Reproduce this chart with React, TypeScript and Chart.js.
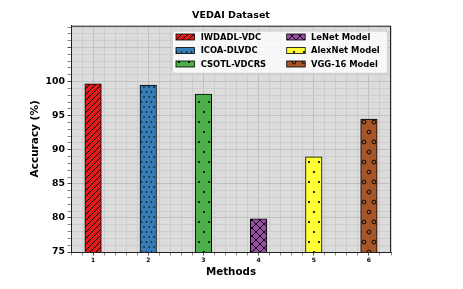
import React, { useEffect, useRef } from "react";
import { Chart, registerables } from "chart.js";

Chart.register(...registerables);

// ---- data ----
const methodPositions = [1, 2, 3, 4, 5, 6];
const xTickLabels = ["1", "2", "3", "4", "5", "6"];
const methodNames = [
  "IWDADL-VDC",
  "ICOA-DLVDC",
  "CSOTL-VDCRS",
  "LeNet Model",
  "AlexNet Model",
  "VGG-16 Model",
];
const accuracyValues = [99.66, 99.48, 98.15, 79.85, 88.97, 94.5];
const yTickLabels = [75, 80, 85, 90, 95, 100];
const chartTitle = "VEDAI Dataset";
const barColors = ["#e41a1c", "#377eb8", "#4daf4a", "#984ea3", "#ffff33", "#a65628"];
const hatchKinds = ["///", "..", ".", "xx", ".", "o"];

const FONT = "'DejaVu Sans', sans-serif";

function makePattern(bg: string, kind: string): CanvasPattern | string {
  const c = document.createElement("canvas");
  let w = 10;
  let h = 20;
  if (kind === "///") { w = 6; h = 6; }
  else if (kind === "xx") { w = 8; h = 8; }
  else if (kind === "..") { w = 5; h = 10; }
  c.width = w;
  c.height = h;
  const g = c.getContext("2d");
  if (!g) return bg;
  g.fillStyle = bg;
  g.fillRect(0, 0, w, h);
  g.strokeStyle = "#000";
  g.fillStyle = "#000";
  g.lineWidth = 1;
  if (kind === "///") {
    g.beginPath();
    for (let k = -1; k <= 1; k++) {
      g.moveTo(k * w - 1, h + 1);
      g.lineTo(k * w + w + 1, -1);
    }
    g.stroke();
  } else if (kind === "xx") {
    g.lineWidth = 0.9;
    g.beginPath();
    for (let k = -1; k <= 1; k++) {
      g.moveTo(k * w - 1, h + 1);
      g.lineTo(k * w + w + 1, -1);
      g.moveTo(k * w - 1, -1);
      g.lineTo(k * w + w + 1, h + 1);
    }
    g.stroke();
  } else if (kind === "..") {
    const pts = [[1.5, 2], [4, 7]];
    for (const [px, py] of pts) {
      g.beginPath();
      g.arc(px, py, 0.8, 0, Math.PI * 2);
      g.fill();
    }
  } else if (kind === ".") {
    const pts = [[9, 2], [4, 12]];
    for (const [px, py] of pts) {
      g.beginPath();
      g.arc(px, py, 1.1, 0, Math.PI * 2);
      g.fill();
    }
  } else if (kind === "o") {
    g.lineWidth = 0.9;
    const pts = [[4, 2], [9, 12]];
    for (const [px, py] of pts) {
      for (const dx of [-w, 0, w]) {
        for (const dy of [-h, 0, h]) {
          g.beginPath();
          g.arc(px + dx, py + dy, 1.9, 0, Math.PI * 2);
          g.stroke();
        }
      }
    }
  }
  const p = g.createPattern(c, "repeat");
  return p || bg;
}

export default function App() {
  const ref = useRef<HTMLCanvasElement | null>(null);

  useEffect(() => {
    if (!ref.current) return;
    const patterns = barColors.map((col, i) => makePattern(col, hatchKinds[i]));

    const datasets = methodNames.map((name, i) => ({
      label: name,
      data: [{ x: methodPositions[i], y: accuracyValues[i] }],
      backgroundColor: patterns[i],
      borderColor: "#000",
      borderWidth: 1,
      borderSkipped: false,
      barThickness: 16.5,
      grouped: false,
    }));

    const decor = {
      id: "decor",
      beforeDraw(chart: any) {
        const { ctx, chartArea: a } = chart;
        ctx.save();
        ctx.fillStyle = "#ffffff";
        ctx.fillRect(0, 0, chart.width, chart.height);
        ctx.fillStyle = "#dcdcdc";
        ctx.fillRect(a.left, a.top, a.right - a.left, a.bottom - a.top);
        ctx.restore();
      },
      afterDatasetsDraw(chart: any) {
        const { ctx, chartArea: a } = chart;
        ctx.save();
        ctx.strokeStyle = "#222";
        ctx.lineWidth = 1;
        ctx.strokeRect(a.left + 0.5, a.top + 0.5, a.right - a.left - 1, a.bottom - a.top);
        ctx.restore();
      },
      afterDraw(chart: any) {
        const { ctx, chartArea: a } = chart;
        ctx.save();
        // title, centred over the plot area
        ctx.font = `bold 9.5px ${FONT}`;
        ctx.fillStyle = "#000";
        ctx.textAlign = "center";
        ctx.textBaseline = "middle";
        ctx.fillText(chartTitle, (a.left + a.right) / 2, a.top - 9.7);

        const boxR = a.right - 3.3;
        const boxL = boxR - 215.4;
        const boxT = a.top + 5.3;
        const boxB = boxT + 42.3;
        ctx.beginPath();
        const r = 2.5;
        ctx.moveTo(boxL + r, boxT);
        ctx.arcTo(boxR, boxT, boxR, boxB, r);
        ctx.arcTo(boxR, boxB, boxL, boxB, r);
        ctx.arcTo(boxL, boxB, boxL, boxT, r);
        ctx.arcTo(boxL, boxT, boxR, boxT, r);
        ctx.closePath();
        ctx.fillStyle = "rgba(255,255,255,0.8)";
        ctx.fill();
        ctx.strokeStyle = "#cccccc";
        ctx.lineWidth = 1;
        ctx.stroke();

        ctx.font = `bold 8.4px ${FONT}`;
        ctx.textBaseline = "middle";
        ctx.textAlign = "left";
        const colHandle = [boxL + 3.7, boxL + 114.4];
        const colText = [boxL + 28.4, boxL + 138.7];
        const rowY = [boxT + 6, boxT + 19.6, boxT + 33];
        methodNames.forEach((name, i) => {
          const col = Math.floor(i / 3);
          const row = i % 3;
          const hx = colHandle[col];
          const hy = rowY[row] - 3;
          ctx.fillStyle = patterns[i];
          ctx.fillRect(hx, hy, 18.5, 6);
          ctx.strokeStyle = "#000";
          ctx.lineWidth = 0.8;
          ctx.strokeRect(hx, hy, 18.5, 6);
          ctx.fillStyle = "#000";
          ctx.fillText(name, colText[col], rowY[row] + 0.5);
        });
        ctx.restore();
      },
    };

    const chart = new Chart(ref.current, {
      type: "bar",
      data: { datasets: datasets as any },
      plugins: [decor],
      options: {
        animation: false,
        responsive: false,
        events: [],
        layout: { padding: { left: 0, right: 72, top: 25.7, bottom: 0 } },
        plugins: {
          legend: { display: false },
          tooltip: { enabled: false },
          title: { display: false },
        },
        scales: {
          x: {
            type: "linear",
            offset: false,
            min: 0.6,
            max: 6.4,
            afterBuildTicks: (s: any) => {
              const t = [];
              for (let k = 3; k <= 32; k++) t.push({ value: k / 5 });
              s.ticks = t;
            },
            afterFit: (s: any) => { s.height = 37; },
            ticks: {
              autoSkip: false,
              maxRotation: 0,
              padding: 1,
              color: "#000",
              font: { family: FONT, size: 6, weight: "bold" },
              callback: (v: any) => {
                const i = methodPositions.indexOf(Number(v));
                return i >= 0 ? xTickLabels[i] : "";
              },
            },
            grid: {
              offset: false,
              color: (c: any) => (c.tick && methodPositions.includes(c.tick.value) ? "#b4b4b4" : "#c6c6c6"),
              lineWidth: 0.7,
              tickColor: (c: any) => (c.tick && methodPositions.includes(c.tick.value) ? "#000" : "#555"),
              tickLength: 3.5,
            },
            border: { display: true, color: "#222", width: 1 },
            title: {
              display: true,
              text: "Methods",
              color: "#000",
              font: { family: FONT, size: 10.3, weight: "bold" },
              padding: { top: 0, bottom: 10.3 },
            },
          },
          y: {
            type: "linear",
            min: 75,
            max: 108.2,
            afterBuildTicks: (s: any) => {
              const t = [];
              for (let k = 75; k <= 108; k++) t.push({ value: k });
              s.ticks = t;
            },
            afterFit: (s: any) => { s.width = 71; },
            ticks: {
              autoSkip: false,
              padding: 2.5,
              color: "#000",
              font: { family: FONT, size: 9.3, weight: "bold" },
              callback: (v: any) => (yTickLabels.includes(Number(v)) ? String(v) : ""),
            },
            grid: {
              color: (c: any) => (c.tick && c.tick.value % 5 === 0 ? "#b4b4b4" : "#c6c6c6"),
              lineWidth: 0.7,
              tickColor: (c: any) => (c.tick && c.tick.value % 5 === 0 ? "#000" : "#555"),
              tickLength: 3.5,
            },
            border: { display: true, color: "#222", width: 1 },
            title: {
              display: true,
              text: "Accuracy (%)",
              color: "#000",
              font: { family: FONT, size: 10.5, weight: "bold" },
              padding: { top: 29.2, bottom: 0 },
            },
          },
        },
      } as any,
    });
    return () => chart.destroy();
  }, []);

  return (
    <div style={{ position: "absolute", left: 0, top: 0, width: 463, height: 289 }}>
      <canvas ref={ref} width={463} height={289} style={{ display: "block" }} />
    </div>
  );
}
